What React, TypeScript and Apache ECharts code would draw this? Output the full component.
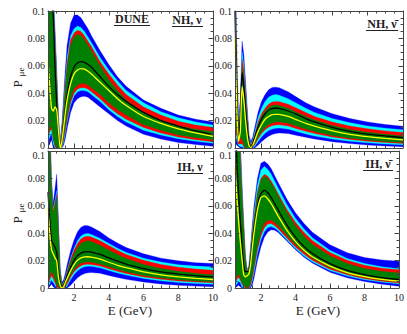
import React, { useEffect, useRef } from 'react';
import * as echarts from 'echarts';

// Energy grid (GeV)
const energy = [0.5, 0.6, 0.7, 0.8, 0.9, 1.0, 1.1, 1.2, 1.3, 1.4, 1.5, 1.6, 1.8, 2.0, 2.2, 2.4, 2.6, 2.8, 3.0, 3.5, 4, 4.5, 5, 6, 7, 8, 9, 10];

// ---- Panel: NH, nu (top-left)
const tlBlueHi = [0.15, 0.15, 0.14, 0.115, 0.088, 0.058, 0.025, 0.005, 0.018, 0.038, 0.058, 0.075, 0.091, 0.097, 0.097, 0.095, 0.091, 0.087, 0.082, 0.071, 0.061, 0.052, 0.045, 0.035, 0.029, 0.024, 0.021, 0.019];
const tlCyanHi = [0.14, 0.14, 0.13, 0.11, 0.082, 0.052, 0.021, 0.004, 0.014, 0.032, 0.05, 0.066, 0.082, 0.087, 0.089, 0.088, 0.085, 0.081, 0.077, 0.066, 0.057, 0.049, 0.042, 0.033, 0.0265, 0.022, 0.019, 0.0168];
const tlRedHi = [0.13, 0.13, 0.125, 0.105, 0.078, 0.049, 0.019, 0.003, 0.012, 0.029, 0.047, 0.062, 0.079, 0.084, 0.086, 0.085, 0.082, 0.078, 0.074, 0.063, 0.054, 0.046, 0.039, 0.03, 0.024, 0.0195, 0.0168, 0.015];
const tlGreenHi = [0.12, 0.12, 0.115, 0.1, 0.073, 0.045, 0.017, 0.002, 0.01, 0.026, 0.043, 0.058, 0.075, 0.081, 0.083, 0.082, 0.079, 0.075, 0.071, 0.06, 0.05, 0.042, 0.035, 0.026, 0.0205, 0.0163, 0.0137, 0.012];
const tlBlack = [0.115, 0.115, 0.11, 0.098, 0.06, 0.032, 0.01, 0.001, 0.006, 0.017, 0.029, 0.039, 0.052, 0.059, 0.062, 0.063, 0.0625, 0.061, 0.059, 0.052, 0.045, 0.039, 0.034, 0.026, 0.02, 0.016, 0.0125, 0.0098];
const tlYellow = [0.064, 0.045, 0.029, 0.027, 0.03, 0.028, 0.013, 0.0, 0.005, 0.015, 0.026, 0.035, 0.047, 0.054, 0.057, 0.058, 0.0575, 0.056, 0.054, 0.048, 0.042, 0.036, 0.031, 0.023, 0.018, 0.014, 0.011, 0.0085];
const tlGreenLo = [0.01, 0.014, 0.016, 0.008, 0.002, 0.001, 0.0, 0.0, 0.002, 0.008, 0.016, 0.024, 0.036, 0.043, 0.046, 0.047, 0.047, 0.046, 0.044, 0.039, 0.033, 0.028, 0.024, 0.017, 0.013, 0.0095, 0.0075, 0.006];
const tlRedLo = [0.008, 0.012, 0.014, 0.006, 0.001, 0, 0, 0, 0.001, 0.006, 0.013, 0.021, 0.033, 0.04, 0.043, 0.044, 0.044, 0.043, 0.041, 0.036, 0.03, 0.025, 0.021, 0.015, 0.011, 0.008, 0.006, 0.0045];
const tlCyanLo = [0.004, 0.008, 0.011, 0.003, 0, 0, 0, 0, 0, 0.004, 0.011, 0.019, 0.031, 0.038, 0.041, 0.042, 0.042, 0.041, 0.039, 0.034, 0.028, 0.023, 0.019, 0.013, 0.0095, 0.0068, 0.005, 0.0035];
const tlBlueLo = [0, 0.003, 0.006, 0, 0, 0, 0, 0, 0, 0.002, 0.007, 0.014, 0.026, 0.033, 0.036, 0.0375, 0.0378, 0.037, 0.035, 0.03, 0.025, 0.02, 0.016, 0.01, 0.0065, 0.004, 0.0025, 0.0012];

// ---- Panel: NH, anti-nu (top-right)
const trBlueHi = [0.15, 0.07, 0.022, 0.035, 0.078, 0.068, 0.048, 0.028, 0.009, 0.005, 0.008, 0.014, 0.026, 0.034, 0.039, 0.0425, 0.0442, 0.0444, 0.044, 0.041, 0.037, 0.033, 0.03, 0.025, 0.0215, 0.019, 0.0172, 0.0158];
const trCyanHi = [0.14, 0.062, 0.018, 0.03, 0.07, 0.061, 0.042, 0.024, 0.007, 0.003, 0.006, 0.011, 0.022, 0.029, 0.034, 0.037, 0.0385, 0.039, 0.0385, 0.036, 0.0325, 0.029, 0.026, 0.0215, 0.0185, 0.016, 0.0145, 0.0133];
const trRedHi = [0.13, 0.057, 0.015, 0.027, 0.065, 0.057, 0.039, 0.021, 0.006, 0.002, 0.005, 0.009, 0.019, 0.025, 0.029, 0.032, 0.0335, 0.034, 0.0338, 0.032, 0.029, 0.026, 0.023, 0.019, 0.016, 0.014, 0.0125, 0.0113];
const trGreenHi = [0.12, 0.052, 0.012, 0.024, 0.06, 0.052, 0.035, 0.018, 0.005, 0.0015, 0.004, 0.008, 0.017, 0.023, 0.027, 0.0295, 0.031, 0.0315, 0.031, 0.029, 0.026, 0.023, 0.0205, 0.0165, 0.0135, 0.0115, 0.01, 0.0088];
const trBlack = [0.1, 0.04, 0.008, 0.02, 0.055, 0.045, 0.028, 0.013, 0.003, 0.001, 0.003, 0.007, 0.015, 0.021, 0.025, 0.0275, 0.0288, 0.0292, 0.029, 0.027, 0.0245, 0.0215, 0.019, 0.015, 0.0122, 0.0102, 0.0088, 0.0076];
const trYellow = [0.08, 0.03, 0.005, 0.012, 0.045, 0.035, 0.02, 0.008, 0.0015, 0.0005, 0.002, 0.005, 0.012, 0.017, 0.021, 0.023, 0.0243, 0.0246, 0.0245, 0.023, 0.0205, 0.018, 0.016, 0.0125, 0.01, 0.0083, 0.007, 0.006];
const trGreenLo = [0.02, 0.012, 0.004, 0.008, 0.006, 0.002, 0.0005, 0, 0, 0, 0.001, 0.003, 0.008, 0.012, 0.015, 0.017, 0.0182, 0.019, 0.019, 0.018, 0.0158, 0.0138, 0.012, 0.0092, 0.0072, 0.0058, 0.0048, 0.004];
const trRedLo = [0.015, 0.009, 0.003, 0.003, 0.003, 0.001, 0, 0, 0, 0, 0.0005, 0.002, 0.0065, 0.0105, 0.0133, 0.0152, 0.0163, 0.0168, 0.017, 0.016, 0.014, 0.0122, 0.0106, 0.008, 0.0062, 0.0049, 0.004, 0.0032];
const trCyanLo = [0.01, 0.006, 0.002, 0.001, 0.001, 0, 0, 0, 0, 0, 0, 0.001, 0.0045, 0.008, 0.0108, 0.0127, 0.0138, 0.0144, 0.0146, 0.0138, 0.012, 0.0103, 0.0088, 0.0065, 0.0049, 0.0038, 0.003, 0.0024];
const trBlueLo = [0.004, 0.002, 0.001, 0, 0, 0, 0, 0, 0, 0, 0, 0, 0.002, 0.0045, 0.0068, 0.0086, 0.0099, 0.0106, 0.011, 0.0105, 0.0092, 0.0078, 0.0066, 0.0046, 0.0032, 0.0022, 0.0015, 0.001];

// ---- Panel: IH, nu (bottom-left)
const blBlueHi = [0.2, 0.13, 0.08, 0.062, 0.072, 0.083, 0.05, 0.015, 0.004, 0.006, 0.011, 0.017, 0.027, 0.035, 0.041, 0.0443, 0.0456, 0.0455, 0.0445, 0.041, 0.0365, 0.0328, 0.0295, 0.025, 0.0218, 0.0198, 0.0185, 0.0178];
const blCyanHi = [0.19, 0.12, 0.075, 0.058, 0.064, 0.071, 0.043, 0.012, 0.003, 0.004, 0.008, 0.013, 0.022, 0.029, 0.0345, 0.038, 0.0395, 0.0398, 0.039, 0.0362, 0.0325, 0.029, 0.026, 0.0218, 0.019, 0.017, 0.016, 0.0153];
const blRedHi = [0.18, 0.115, 0.072, 0.056, 0.062, 0.069, 0.041, 0.011, 0.0025, 0.0035, 0.007, 0.012, 0.021, 0.0275, 0.0325, 0.0358, 0.0374, 0.0378, 0.0372, 0.0345, 0.031, 0.0275, 0.0245, 0.0202, 0.0172, 0.0152, 0.0138, 0.0129];
const blGreenHi = [0.17, 0.11, 0.07, 0.054, 0.06, 0.067, 0.039, 0.01, 0.002, 0.003, 0.006, 0.011, 0.019, 0.025, 0.0295, 0.0325, 0.034, 0.0345, 0.034, 0.0312, 0.0278, 0.0245, 0.0215, 0.0172, 0.0142, 0.0122, 0.0108, 0.0095];
const blBlack = [0.07, 0.05, 0.035, 0.032, 0.03, 0.026, 0.012, 0.004, 0.001, 0.002, 0.005, 0.009, 0.015, 0.02, 0.0235, 0.0255, 0.0263, 0.0265, 0.0262, 0.0245, 0.022, 0.0196, 0.0175, 0.0142, 0.0118, 0.0102, 0.009, 0.0081];
const blYellow = [0.058, 0.04, 0.028, 0.025, 0.022, 0.02, 0.008, 0.002, 0.0, 0.001, 0.004, 0.007, 0.0125, 0.017, 0.0202, 0.022, 0.0227, 0.0228, 0.0225, 0.021, 0.0188, 0.0166, 0.0148, 0.0118, 0.0096, 0.0081, 0.007, 0.0062];
const blGreenLo = [0.005, 0.008, 0.012, 0.01, 0.006, 0.003, 0.001, 0, 0, 0.0005, 0.002, 0.0045, 0.0095, 0.0135, 0.0162, 0.018, 0.0188, 0.019, 0.0188, 0.0175, 0.0155, 0.0135, 0.0118, 0.0092, 0.0073, 0.006, 0.0051, 0.0045];
const blRedLo = [0.003, 0.006, 0.009, 0.007, 0.004, 0.001, 0, 0, 0, 0, 0.001, 0.003, 0.0078, 0.0118, 0.0145, 0.0163, 0.0171, 0.0173, 0.0172, 0.016, 0.0141, 0.0122, 0.0106, 0.0081, 0.0063, 0.0051, 0.0043, 0.0038];
const blCyanLo = [0.001, 0.003, 0.006, 0.004, 0.002, 0, 0, 0, 0, 0, 0, 0.0015, 0.006, 0.0098, 0.0126, 0.0145, 0.0155, 0.0159, 0.0158, 0.0147, 0.0128, 0.011, 0.0094, 0.007, 0.0053, 0.0041, 0.0033, 0.0028];
const blBlueLo = [0, 0.001, 0.003, 0.001, 0, 0, 0, 0, 0, 0, 0, 0, 0.002, 0.0048, 0.0074, 0.0093, 0.0105, 0.0111, 0.0113, 0.0107, 0.0092, 0.0077, 0.0063, 0.0043, 0.0029, 0.002, 0.0014, 0.001];

// ---- Panel: IH, anti-nu (bottom-right)
const brBlueHi = [0.2, 0.18, 0.15, 0.11, 0.078, 0.05, 0.025, 0.013, 0.016, 0.03, 0.046, 0.06, 0.08, 0.091, 0.0925, 0.0905, 0.087, 0.082, 0.077, 0.065, 0.055, 0.047, 0.0405, 0.0315, 0.0258, 0.0222, 0.0205, 0.0195];
const brCyanHi = [0.19, 0.17, 0.14, 0.105, 0.074, 0.047, 0.023, 0.0125, 0.014, 0.027, 0.042, 0.055, 0.075, 0.086, 0.0888, 0.0865, 0.083, 0.078, 0.073, 0.061, 0.051, 0.043, 0.0365, 0.0275, 0.0215, 0.0178, 0.0155, 0.0141];
const brRedHi = [0.18, 0.16, 0.13, 0.1, 0.07, 0.045, 0.022, 0.0123, 0.013, 0.025, 0.039, 0.051, 0.07, 0.08, 0.083, 0.0815, 0.078, 0.0735, 0.0688, 0.0575, 0.048, 0.0405, 0.0345, 0.026, 0.0202, 0.0166, 0.0145, 0.0133];
const brGreenHi = [0.17, 0.15, 0.12, 0.095, 0.066, 0.042, 0.02, 0.012, 0.0125, 0.023, 0.037, 0.049, 0.068, 0.0785, 0.0815, 0.08, 0.0765, 0.072, 0.0672, 0.0555, 0.0455, 0.0378, 0.0318, 0.0235, 0.0178, 0.0142, 0.0122, 0.011];
const brBlack = [0.14, 0.095, 0.07, 0.05, 0.032, 0.016, 0.012, 0.012, 0.012, 0.02, 0.032, 0.043, 0.06, 0.069, 0.0712, 0.0695, 0.066, 0.0615, 0.057, 0.046, 0.0372, 0.0302, 0.025, 0.0178, 0.0128, 0.0097, 0.0076, 0.0062];
const brYellow = [0.088, 0.068, 0.05, 0.035, 0.022, 0.01, 0.008, 0.009, 0.01, 0.017, 0.029, 0.04, 0.057, 0.066, 0.0672, 0.065, 0.0615, 0.057, 0.0525, 0.0422, 0.034, 0.0275, 0.0226, 0.016, 0.0113, 0.0083, 0.0063, 0.005];
const brGreenLo = [0.005, 0.008, 0.01, 0.008, 0.004, 0.002, 0.001, 0, 0.001, 0.004, 0.01, 0.017, 0.031, 0.041, 0.047, 0.0495, 0.0495, 0.0478, 0.0455, 0.0385, 0.0318, 0.0262, 0.0215, 0.0148, 0.0105, 0.0076, 0.0057, 0.0045];
const brRedLo = [0.003, 0.006, 0.008, 0.006, 0.003, 0.001, 0, 0, 0, 0.002, 0.007, 0.014, 0.028, 0.038, 0.044, 0.0468, 0.047, 0.0455, 0.0433, 0.0365, 0.03, 0.0246, 0.0201, 0.0137, 0.0096, 0.0068, 0.005, 0.0036];
const brCyanLo = [0.001, 0.003, 0.005, 0.004, 0.001, 0, 0, 0, 0, 0.001, 0.005, 0.011, 0.025, 0.035, 0.041, 0.0442, 0.0448, 0.0438, 0.0418, 0.0352, 0.0288, 0.0234, 0.019, 0.0127, 0.0087, 0.006, 0.0043, 0.003];
const brBlueLo = [0, 0.001, 0.002, 0.001, 0, 0, 0, 0, 0, 0, 0.002, 0.007, 0.02, 0.03, 0.037, 0.0408, 0.0425, 0.0422, 0.0405, 0.0343, 0.028, 0.0225, 0.018, 0.0115, 0.0074, 0.0047, 0.0028, 0.0012];

const xLabels = [2, 4, 6, 8, 10];

const BLUE = '#0000ff';
const CYAN = '#00ffff';
const RED = '#ff0000';
const GREEN = '#008000';
const YELLOW = '#ffff00';
const FONT = '"Liberation Serif", "DejaVu Serif", serif';
const FRAME = '#444444';
const TXT = '#222222';

const panels = [
  { edges: [tlBlueLo, tlCyanLo, tlRedLo, tlGreenLo, tlGreenHi, tlRedHi, tlCyanHi, tlBlueHi], black: tlBlack, yellow: tlYellow, grid: { left: 48, top: 11, width: 165, height: 137 }, xLab: false, top: true },
  { edges: [trBlueLo, trCyanLo, trRedLo, trGreenLo, trGreenHi, trRedHi, trCyanHi, trBlueHi], black: trBlack, yellow: trYellow, grid: { left: 235, top: 11, width: 168, height: 137 }, xLab: false, top: true },
  { edges: [blBlueLo, blCyanLo, blRedLo, blGreenLo, blGreenHi, blRedHi, blCyanHi, blBlueHi], black: blBlack, yellow: blYellow, grid: { left: 48, top: 151, width: 165, height: 137 }, xLab: true, top: false },
  { edges: [brBlueLo, brCyanLo, brRedLo, brGreenLo, brGreenHi, brRedHi, brCyanHi, brBlueHi], black: brBlack, yellow: brYellow, grid: { left: 235, top: 151, width: 168, height: 137 }, xLab: true, top: false },
];
// outer band first, inner last
const bandDefs = [
  { lo: 0, hi: 7, color: BLUE },
  { lo: 1, hi: 6, color: CYAN },
  { lo: 2, hi: 5, color: RED },
  { lo: 3, hi: 4, color: GREEN },
];

function buildOption() {
  const grid: any[] = [];
  const xAxis: any[] = [];
  const yAxis: any[] = [];
  const series: any[] = [];

  panels.forEach((p, g) => {
    grid.push({ ...p.grid });
    const xBase = {
      gridIndex: g, type: 'value', min: 0.5, max: 10, splitLine: { show: false },
      axisLine: { show: true, lineStyle: { color: FRAME, width: 1 } },
      z: 10,
    };
    xAxis.push({
      ...xBase, position: 'bottom', interval: 0.5,
      axisTick: { show: true, inside: true, length: 2.5, lineStyle: { color: FRAME } },
      axisLabel: {
        show: p.xLab, margin: 4, fontSize: 10, fontFamily: FONT, color: TXT,
        formatter: (v: number) => (xLabels.indexOf(Math.round(v * 100) / 100) >= 0 ? String(v) : ''),
      },
    });
    xAxis.push({
      ...xBase, position: 'bottom', axisLine: { show: false },
      axisTick: { show: true, inside: true, length: 4.5, customValues: xLabels, lineStyle: { color: FRAME } },
      axisLabel: { show: false },
    });
    xAxis.push({
      ...xBase, position: 'top', interval: 0.5,
      axisTick: { show: true, inside: true, length: 2.5, lineStyle: { color: FRAME } },
      axisLabel: { show: false },
    });
    xAxis.push({
      ...xBase, position: 'top', axisLine: { show: false },
      axisTick: { show: true, inside: true, length: 4.5, customValues: xLabels, lineStyle: { color: FRAME } },
      axisLabel: { show: false },
    });
    const yBase = {
      gridIndex: g, type: 'value', min: 0, max: 0.1, interval: 0.02, splitLine: { show: false },
      axisLine: { show: true, lineStyle: { color: FRAME, width: 1 } },
      axisTick: { show: true, inside: true, length: 4.5, lineStyle: { color: FRAME } },
      minorTick: { show: true, splitNumber: 4, length: 2.5, lineStyle: { color: FRAME } },
      minorSplitLine: { show: false },
      z: 10,
    };
    yAxis.push({
      ...yBase, position: 'left',
      axisLabel: {
        show: true, margin: 3, fontSize: 10, fontFamily: FONT, color: TXT,
        showMinLabel: !p.top, showMaxLabel: p.top,
      },
    });
    yAxis.push({ ...yBase, position: 'right', axisLabel: { show: false } });

    const xi = g * 4;
    const yi = g * 2;
    bandDefs.forEach((b) => {
      const lo = p.edges[b.lo];
      const hi = p.edges[b.hi];
      series.push({
        type: 'custom', xAxisIndex: xi, yAxisIndex: yi, silent: true,
        data: energy.map((e, i) => [e, lo[i], hi[i]]),
        encode: { x: 0, y: [1, 2] },
        renderItem: (params: any, api: any) => {
          if (params.dataIndex !== 0) return null;
          const top = energy.map((e, i) => api.coord([e, hi[i]]));
          const bot = energy.map((e, i) => api.coord([e, lo[i]])).reverse();
          const cs = params.coordSys;
          return {
            type: 'group',
            clipPath: { type: 'rect', shape: { x: cs.x, y: cs.y, width: cs.width, height: cs.height } },
            children: [{
              type: 'polygon',
              shape: { points: top.concat(bot) },
              style: { fill: b.color, stroke: b.color, lineWidth: 0.3 },
            }],
          };
        },
      });
    });
    series.push({
      type: 'line', xAxisIndex: xi, yAxisIndex: yi, data: energy.map((e, i) => [e, p.black[i]]),
      symbol: 'none', smooth: 0.2, lineStyle: { color: '#000', width: 1.3 }, z: 5, silent: true,
    });
    series.push({
      type: 'line', xAxisIndex: xi, yAxisIndex: yi, data: energy.map((e, i) => [e, p.yellow[i]]),
      symbol: 'none', smooth: 0.2, lineStyle: { color: YELLOW, width: 1.3 }, z: 5, silent: true,
    });
  });

  const title = (text: string, x: number, y: number, ux1: number, ux2: number) => [
    { type: 'text', x, y, z: 100, style: { text, align: 'center', verticalAlign: 'middle', fontSize: 12, fontWeight: 'bold', fontFamily: FONT, fill: TXT } },
    { type: 'line', z: 100, shape: { x1: ux1, y1: y + 6.5, x2: ux2, y2: y + 6.5 }, style: { stroke: TXT, lineWidth: 1 } },
  ];
  const pLabel = (cy: number) => [
    { type: 'text', x: 17.5, y: cy + 5, rotation: Math.PI / 2, z: 100, style: { text: 'P', align: 'center', verticalAlign: 'middle', fontSize: 13, fontFamily: FONT, fill: TXT } },
    { type: 'text', x: 21, y: cy - 7, rotation: Math.PI / 2, z: 100, style: { text: 'μe', align: 'center', verticalAlign: 'middle', fontSize: 9, fontFamily: FONT, fill: TXT } },
  ];
  const tickText = (text: string, x: number, y: number) => ({
    type: 'text', x, y, z: 100,
    style: { text, align: 'right', verticalAlign: 'middle', fontSize: 10, fontFamily: FONT, fill: TXT },
  });
  const graphic: any[] = [
    ...title('DUNE', 132, 19, 114, 150),
    ...title('NH, ν', 187, 20, 172, 203),
    ...title('NH, ν\u0304', 382, 24, 366, 398),
    ...title('IH, ν', 190, 167, 177, 203),
    ...title('IH, ν\u0304', 378, 164, 363, 393),
    ...pLabel(79),
    ...pLabel(215),
    tickText('0', 45, 145),
    tickText('0', 232, 145),
    tickText('0.1', 45, 155),
    tickText('0.1', 232, 155),
    { type: 'text', x: 130, y: 310, z: 100, style: { text: 'E (GeV)', align: 'center', verticalAlign: 'middle', fontSize: 13, fontFamily: FONT, fill: TXT } },
    { type: 'text', x: 318, y: 310, z: 100, style: { text: 'E (GeV)', align: 'center', verticalAlign: 'middle', fontSize: 13, fontFamily: FONT, fill: TXT } },
  ];

  return {
    animation: false,
    backgroundColor: '#ffffff',
    textStyle: { fontFamily: FONT },
    grid, xAxis, yAxis, series, graphic,
  };
}

export default function App() {
  const ref = useRef<HTMLDivElement>(null);
  useEffect(() => {
    if (!ref.current) return;
    const chart = echarts.init(ref.current, undefined, { renderer: 'svg' });
    chart.setOption(buildOption() as any);
    return () => chart.dispose();
  }, []);
  return <div ref={ref} style={{ position: 'absolute', left: 0, top: 0, width: 407, height: 334 }} />;
}
